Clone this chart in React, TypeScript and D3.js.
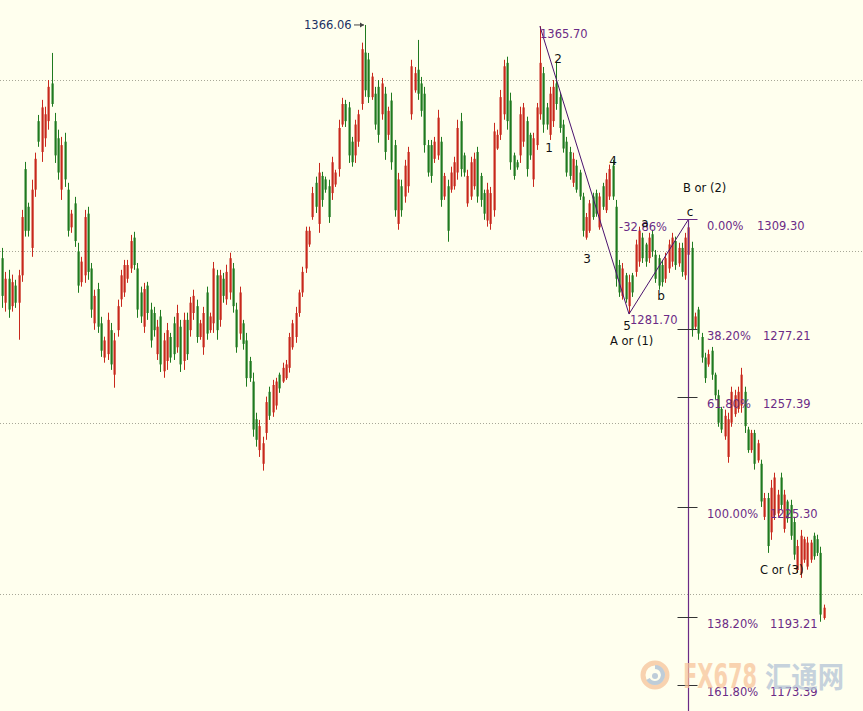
import React from "react";
import * as d3 from "d3";

const highs = [
  1301.0, 1294.0, 1294.6, 1293.2, 1291.7, 1294.6, 1312.1, 1326.1, 1314.2, 1320.9,
  1328.8, 1339.8, 1344.2, 1342.2, 1350.0, 1357.9, 1340.4, 1335.5, 1333.4, 1334.6,
  1320.0, 1312.1, 1315.9, 1302.5, 1298.4, 1312.1, 1313.0, 1296.6, 1288.8, 1290.8,
  1280.9, 1275.1, 1282.1, 1279.1, 1276.2, 1285.9, 1294.6, 1297.5, 1297.5, 1304.8,
  1305.7, 1296.6, 1289.7, 1290.8, 1291.1, 1285.0, 1283.8, 1280.0, 1282.9, 1276.2,
  1279.1, 1276.2, 1280.9, 1284.4, 1280.0, 1282.1, 1282.1, 1286.7, 1288.8, 1285.9,
  1280.0, 1283.8, 1289.7, 1282.1, 1296.9, 1294.6, 1294.6, 1293.7, 1296.1, 1299.6,
  1296.6, 1285.0, 1289.7, 1280.0, 1276.2, 1269.2, 1264.6, 1252.9, 1250.8, 1245.9,
  1257.6, 1260.5, 1262.5, 1263.1, 1264.6, 1267.5, 1268.3, 1276.2, 1280.0, 1283.8,
  1288.8, 1295.5, 1307.2, 1307.2, 1318.8, 1321.8, 1325.8, 1323.2, 1321.8, 1320.9,
  1327.6, 1323.8, 1338.4, 1344.8, 1344.2, 1343.6, 1333.4, 1338.4, 1341.3, 1360.9,
  1366.06, 1357.9, 1352.1, 1348.0, 1350.0, 1350.6, 1348.0, 1342.2, 1346.3, 1332.5,
  1322.9, 1320.9, 1326.7, 1330.5, 1355.9, 1353.8, 1361.7, 1350.9, 1348.0, 1332.5,
  1332.5, 1333.4, 1341.3, 1333.4, 1322.9, 1320.9, 1324.7, 1327.6, 1338.4, 1340.4,
  1328.8, 1323.8, 1327.6, 1328.8, 1330.5, 1322.9, 1318.0, 1320.0, 1318.8, 1337.5,
  1335.5, 1347.1, 1355.9, 1356.8, 1346.3, 1328.8, 1326.7, 1342.2, 1343.3, 1339.3,
  1334.6, 1334.6, 1343.3, 1365.7, 1353.8, 1343.3, 1348.0, 1350.0, 1355.0, 1346.3,
  1338.4, 1333.4, 1330.5, 1328.8, 1326.7, 1323.8, 1317.1, 1311.2, 1315.0, 1317.1,
  1318.0, 1317.1, 1320.0, 1322.9, 1325.3, 1326.7, 1315.0, 1297.5, 1296.6, 1293.7,
  1293.2, 1293.7, 1303.4, 1307.2, 1305.4, 1302.5, 1305.4, 1306.3, 1300.4, 1299.0,
  1297.5, 1299.6, 1303.4, 1305.4, 1304.3, 1302.5, 1302.5, 1305.4, 1309.3, 1302.8,
  1282.1, 1283.8, 1276.2, 1270.4, 1271.3, 1272.1, 1264.6, 1259.6, 1254.6, 1253.8,
  1252.9, 1260.5, 1259.6, 1260.5, 1266.0, 1260.5, 1248.8, 1247.9, 1247.9, 1245.0,
  1239.2, 1229.5, 1229.5, 1233.3, 1235.4, 1230.4, 1235.4, 1230.4, 1227.5, 1227.5,
  1222.5, 1215.8, 1218.7, 1216.7, 1216.7, 1215.8, 1217.9, 1217.3, 1213.8, 1196.9,
];

const lows = [
  1283.5, 1282.4, 1280.6, 1282.4, 1283.5, 1274.2, 1291.1, 1304.3, 1304.3, 1298.4,
  1315.9, 1330.5, 1326.1, 1330.5, 1335.5, 1342.2, 1325.8, 1320.9, 1315.0, 1318.8,
  1304.3, 1305.4, 1301.3, 1287.9, 1289.7, 1290.8, 1291.7, 1280.6, 1277.1, 1276.2,
  1269.2, 1267.5, 1268.3, 1265.4, 1260.2, 1275.1, 1283.8, 1286.7, 1290.8, 1293.7,
  1294.6, 1280.6, 1279.1, 1276.2, 1280.0, 1271.9, 1275.1, 1268.3, 1264.8, 1263.1,
  1265.4, 1267.5, 1268.3, 1270.4, 1264.8, 1265.4, 1268.3, 1275.1, 1280.0, 1273.3,
  1274.2, 1269.8, 1274.2, 1276.2, 1276.2, 1274.2, 1278.0, 1285.0, 1284.4, 1285.9,
  1282.1, 1270.4, 1274.2, 1271.3, 1260.5, 1261.9, 1245.9, 1243.0, 1240.0, 1236.0,
  1245.0, 1250.8, 1251.7, 1253.8, 1258.7, 1261.6, 1262.5, 1264.6, 1271.3, 1273.3,
  1280.9, 1286.7, 1293.7, 1301.3, 1309.2, 1311.2, 1305.4, 1313.0, 1317.1, 1308.3,
  1315.0, 1318.8, 1321.8, 1336.3, 1336.3, 1325.8, 1324.7, 1325.8, 1330.5, 1341.3,
  1345.1, 1343.3, 1344.2, 1335.5, 1331.7, 1338.4, 1326.7, 1332.5, 1323.8, 1310.1,
  1306.3, 1310.1, 1314.2, 1317.1, 1338.4, 1346.3, 1344.2, 1339.3, 1328.8, 1321.8,
  1320.0, 1325.8, 1326.7, 1313.0, 1315.0, 1302.8, 1317.1, 1318.0, 1320.9, 1321.8,
  1321.8, 1313.0, 1315.0, 1318.0, 1314.2, 1313.0, 1309.2, 1307.2, 1306.3, 1310.1,
  1329.6, 1332.5, 1338.4, 1335.5, 1323.8, 1320.9, 1323.8, 1325.8, 1330.5, 1321.8,
  1326.7, 1318.8, 1329.6, 1338.4, 1334.6, 1335.5, 1332.5, 1336.3, 1341.3, 1334.6,
  1328.8, 1321.8, 1320.9, 1318.8, 1317.1, 1315.0, 1304.3, 1303.4, 1305.4, 1309.2,
  1310.1, 1306.3, 1312.1, 1311.2, 1315.0, 1315.0, 1289.7, 1286.7, 1285.9, 1285.0,
  1281.7, 1286.7, 1292.6, 1295.5, 1296.6, 1295.5, 1296.6, 1298.4, 1290.8, 1288.8,
  1289.7, 1290.8, 1293.7, 1295.5, 1294.6, 1295.5, 1292.6, 1291.7, 1297.5, 1275.1,
  1277.1, 1274.2, 1267.5, 1261.6, 1266.3, 1262.5, 1256.7, 1248.8, 1247.0, 1245.0,
  1238.3, 1248.8, 1251.7, 1252.9, 1252.9, 1247.0, 1241.2, 1241.2, 1236.3, 1238.3,
  1225.4, 1221.6, 1212.0, 1215.8, 1221.6, 1222.5, 1224.6, 1217.9, 1220.8, 1215.8,
  1210.0, 1206.2, 1204.7, 1209.1, 1207.1, 1209.1, 1210.0, 1211.1, 1191.9, 1192.5,
];

const opens = [
  1298, 1285, 1292, 1284, 1290, 1285, 1293, 1324, 1313, 1301,
  1318, 1338, 1329, 1333, 1338, 1349, 1338, 1333, 1318, 1332,
  1318, 1307, 1314, 1300, 1291, 1293, 1311, 1295, 1279, 1289,
  1279, 1269, 1270, 1277, 1264, 1277, 1286, 1288, 1292, 1295,
  1304, 1295, 1288, 1278, 1290, 1283, 1282, 1270, 1281, 1265,
  1268, 1275, 1279, 1272, 1278, 1268, 1280, 1277, 1282, 1284,
  1275, 1272, 1288, 1277, 1279, 1293, 1280, 1292, 1286, 1288,
  1295, 1283, 1276, 1279, 1274, 1268, 1262, 1251, 1242, 1238,
  1247, 1259, 1253, 1255, 1264, 1262, 1263, 1266, 1272, 1275,
  1282, 1288, 1295, 1302, 1310, 1320, 1308, 1322, 1321, 1319,
  1317, 1319.5, 1324, 1337, 1343, 1342, 1332, 1328, 1332, 1343,
  1358, 1356, 1345, 1346, 1348, 1340, 1346, 1334, 1344, 1331,
  1308, 1319, 1316, 1319, 1340, 1347, 1353, 1349, 1346, 1331,
  1331, 1327, 1328, 1332, 1316, 1319, 1318, 1319, 1323, 1338,
  1328, 1314, 1316, 1319, 1329, 1322, 1317, 1309, 1308, 1312,
  1330, 1334, 1340, 1355, 1344, 1328, 1326, 1328, 1332, 1338,
  1334, 1321, 1331, 1340, 1352, 1342, 1334, 1338, 1349, 1345,
  1337, 1332, 1329, 1320, 1325, 1323, 1316, 1304, 1306, 1316,
  1317, 1307, 1319, 1312, 1316, 1325, 1313, 1296, 1287, 1293,
  1284, 1293, 1294, 1297, 1304, 1302, 1298, 1305, 1299, 1298,
  1296, 1292, 1295, 1297, 1303, 1296.5, 1301, 1293, 1299, 1301,
  1278, 1283, 1275, 1269, 1267, 1271, 1264, 1258, 1254, 1246,
  1240, 1250, 1252.5, 1254, 1255, 1259, 1248, 1242, 1247, 1239,
  1238, 1222.5, 1228, 1218, 1223, 1223.5, 1234, 1219, 1227, 1226,
  1221, 1207, 1206, 1210, 1208, 1210, 1217, 1216, 1212, 1193,
];

const closes = [
  1287, 1292, 1283, 1291, 1285, 1293, 1310, 1306, 1306, 1318,
  1327, 1332, 1342, 1340, 1348, 1343, 1328, 1323, 1331, 1321,
  1306, 1311, 1303, 1290, 1297, 1310, 1294, 1283, 1287, 1278,
  1271, 1274, 1280, 1267, 1274, 1284, 1293, 1296, 1296, 1303,
  1296, 1283, 1281, 1289, 1282, 1274, 1277, 1278, 1267, 1274,
  1277, 1269, 1270, 1282, 1267, 1280, 1270, 1285, 1287, 1275,
  1279, 1282, 1276, 1281, 1295, 1277, 1293, 1287, 1294, 1298,
  1284, 1272, 1288, 1273, 1263, 1263, 1248, 1245, 1249, 1244,
  1256, 1252, 1261, 1262, 1260, 1266, 1267, 1275, 1279, 1282,
  1288, 1294, 1306, 1306, 1317, 1313, 1323, 1315, 1318, 1310,
  1326, 1323, 1336, 1343, 1338, 1328, 1326, 1337, 1340, 1359,
  1347, 1345, 1351, 1337, 1334, 1349, 1329, 1341, 1326, 1312,
  1321, 1312, 1325, 1329, 1354, 1352, 1346, 1341, 1331, 1323,
  1322, 1332, 1339, 1315, 1322, 1306, 1323, 1326, 1336, 1324,
  1323, 1322, 1326, 1327, 1316, 1315, 1311, 1318, 1317, 1335,
  1334, 1345, 1354, 1338, 1326, 1322, 1324.5, 1340, 1342, 1324,
  1328, 1333, 1342, 1355, 1337, 1337, 1346, 1348, 1343, 1336,
  1330, 1323, 1322, 1327, 1318, 1316, 1306, 1310, 1314, 1310,
  1311, 1316, 1313, 1321, 1324, 1316, 1292, 1288, 1295, 1286,
  1291, 1288, 1302, 1306, 1298, 1297, 1304, 1300, 1292, 1290,
  1291, 1298, 1302, 1304, 1296, 1301, 1294, 1304, 1307, 1277,
  1281, 1276, 1269, 1263, 1270, 1264, 1258, 1250, 1248, 1252,
  1251, 1259, 1258, 1259, 1264, 1249, 1242, 1247, 1238, 1244,
  1227, 1228, 1214, 1231, 1234, 1229, 1226, 1229, 1222, 1217,
  1211.5, 1214, 1217, 1216, 1215, 1215, 1211, 1212, 1194, 1196,
];

const gridPrices = [1350, 1300, 1250, 1200];

const fibPercents = ["0.00%", "38.20%", "61.80%", "100.00%", "138.20%", "161.80%"];
const fibPrices = [1309.3, 1277.21, 1257.39, 1225.3, 1193.21, 1173.39];
const fibPriceLabels = ["1309.30", "1277.21", "1257.39", "1225.30", "1193.21", "1173.39"];

// Wave pivots: [bar index, price]
const pivotIndex = [163, 190, 208];
const pivotPrice = [1365.7, 1281.7, 1309.3];
const peakIndex = 110;
const peakPrice = 1366.06;

const W = 863;
const H = 711;
const UP = "#c8281c";
const DOWN = "#1f7a1f";
const PURPLE = "#6b2b86";
const LINE_PURPLE = "#4b136e";
const FONT = "'DejaVu Sans', Verdana, sans-serif";

export default function App() {
  const n = highs.length;
  const x = d3.scaleLinear().domain([0, n - 1]).range([2, 823.7]);
  const y = d3.scaleLinear().domain([1200, 1350]).range([594, 80]);

  const wavePts: [number, number][] = pivotIndex.map((idx, k) => [x(idx), y(pivotPrice[k])]);
  const waveLine = d3.line()(wavePts) || "";
  const cX = Math.round(x(pivotIndex[2])) + 0.5;
  const cY = y(pivotPrice[2]);

  const bars = d3.range(n).map((i) => {
    const cx = Math.round(x(i));
    const up = closes[i] >= opens[i];
    const col = up ? UP : DOWN;
    const yh = y(highs[i]);
    const yl = y(lows[i]);
    const yo = y(opens[i]);
    const yc = y(closes[i]);
    const top = Math.min(yo, yc);
    const bh = Math.max(1, Math.abs(yo - yc));
    return (
      <g key={i}>
        <line x1={cx + 0.5} x2={cx + 0.5} y1={yh} y2={yl} stroke={col} strokeWidth={1} />
        <rect x={cx - 0.5} y={top} width={2.2} height={bh} fill={col} />
      </g>
    );
  });

  const px = x(peakIndex);
  const py = y(peakPrice);

  return (
    <div style={{ position: "absolute", left: 0, top: 0 }}>
      <svg width={W} height={H} style={{ display: "block" }}>
        <rect x={0} y={0} width={W} height={H} fill="#ffffee" />
        {gridPrices.map((p) => (
          <line
            key={p}
            x1={0}
            x2={W}
            y1={Math.round(y(p)) + 0.5}
            y2={Math.round(y(p)) + 0.5}
            stroke="#a8a898"
            strokeWidth={1}
            strokeDasharray="1,2"
          />
        ))}
        {bars}

        {/* wave lines */}
        <path d={waveLine} fill="none" stroke={LINE_PURPLE} strokeWidth={1} />

        {/* fib vertical + ticks */}
        <line x1={cX} x2={cX} y1={cY} y2={H} stroke={PURPLE} strokeWidth={1.2} />
        {fibPrices.map((p, k) => (
          <line
            key={"t" + k}
            x1={cX - 11}
            x2={cX + 9}
            y1={Math.round(y(p)) + 0.5}
            y2={Math.round(y(p)) + 0.5}
            stroke={k === 0 ? PURPLE : "#333"}
            strokeWidth={1}
          />
        ))}
        {fibPrices.map((p, k) => (
          <g key={"f" + k} fontFamily={FONT} fontSize={11.5} fill={PURPLE}>
            <text x={707} y={y(p) + 11}>{fibPercents[k]}</text>
            <text x={[757, 763, 763, 770, 770, 770][k]} y={y(p) + 11}>
              {fibPriceLabels[k]}
            </text>
          </g>
        ))}

        {/* peak label */}
        <text x={304} y={py + 4.5} fontFamily={FONT} fontSize={11.5} fill="#1c3163">
          1366.06
        </text>
        <line x1={354} x2={px - 1} y1={py} y2={py} stroke="#444" strokeWidth={1} />
        <path d={`M${px - 1},${py} l-4,-2.5 l0,5 z`} fill="#444" />

        {/* purple labels */}
        <g fontFamily={FONT} fontSize={11.5} fill={PURPLE}>
          <text x={540} y={37.5}>1365.70</text>
          <text x={630} y={324}>1281.70</text>
          <text x={619} y={231}>-32.86%</text>
        </g>

        {/* wave labels */}
        <g fontFamily={FONT} fontSize={12} fill="#111" textAnchor="middle">
          <text x={549} y={152}>1</text>
          <text x={558} y={63}>2</text>
          <text x={587} y={263}>3</text>
          <text x={613} y={164.5}>4</text>
          <text x={627} y={330}>5</text>
          <text x={645} y={227}>a</text>
          <text x={661} y={300}>b</text>
          <text x={690} y={216}>c</text>
        </g>
        <g fontFamily={FONT} fontSize={11.5} fill="#111">
          <text x={610} y={345}>A or (1)</text>
          <text x={683} y={192}>B or (2)</text>
          <text x={760} y={574}>C or (3)</text>
        </g>

        {/* watermark */}
        <g opacity={0.75}>
          <circle cx={655} cy={675} r={12} fill="none" stroke="#f6c49a" strokeWidth={5} />
          <path d="M655,667 a8,8 0 1,1 -7,12" fill="none" stroke="#a9bdd3" strokeWidth={4} />
          <circle cx={655} cy={676} r={3} fill="#a9bdd3" />
          <text
            x={683}
            y={688}
            fontFamily={FONT}
            fontWeight="bold"
            fontSize={33}
            fill="#f7c59c"
            textLength={74}
            lengthAdjust="spacingAndGlyphs"
          >
            FX678
          </text>
          <text
            x={765}
            y={688}
            fontFamily="'Noto Sans CJK SC', sans-serif"
            fontWeight="bold"
            fontSize={29}
            fill="#b3c4d6"
            textLength={79}
            lengthAdjust="spacingAndGlyphs"
          >
            汇通网
          </text>
        </g>
      </svg>
    </div>
  );
}
